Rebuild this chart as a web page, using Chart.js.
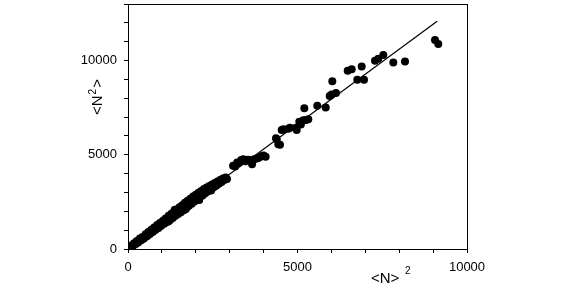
<!DOCTYPE html>
<html>
<head>
<meta charset="utf-8">
<script src="https://cdn.jsdelivr.net/npm/chart.js@4"></script>
<style>
  html, body { margin: 0; padding: 0; background: #fff; }
  #wrap { width: 563px; height: 289px; }
</style>
</head>
<body>
<div id="wrap"><canvas id="scatterChart" width="563" height="289"></canvas></div>
<script>
// measured points: <N>^2 (x) against <N^2> (y)
const pointsX = [
  30, 70, 100, 140, 180, 220, 260, 300, 350, 390, 430, 470, 520, 560, 600, 640, 690, 730,
  770, 810, 860, 900, 940, 980, 1030, 1070, 1110, 1150, 1200, 1240, 1280, 1320, 1360, 1400,
  1440, 1480, 1520, 1560, 1600, 1640, 1680, 1720, 1760, 1800, 1840, 1880, 1920, 1960, 2000,
  2040, 2080, 2120, 2160, 2200, 2240, 2280, 2320, 2360, 2400, 2440, 2480, 2520, 2560, 2600,
  2640, 2680, 2720, 2760, 2800, 2840, 2880, 2920,
  1380, 1700, 2100, 1200, 2450,
  3100, 3220, 3160, 3260, 3340, 3400, 3460, 3540, 3600, 3660, 3720, 3800, 3860, 3940, 4000, 4060,
  4366, 4484, 4386, 4434, 4534, 4581, 4729, 4779, 4956, 4976, 5053, 5100, 5171, 5250, 5319,
  5201, 5584, 5832, 5950, 6009, 6136, 6027, 6481, 6599, 6894, 6764, 6962,
  7286, 7383, 7531, 7826, 8171, 9056, 9153
];
const pointsY = [
  40, 60, 190, 150, 300, 250, 420, 340, 560, 460, 640, 560, 780, 680, 900, 780, 1020, 900,
  1140, 1010, 1280, 1120, 1380, 1230, 1500, 1340, 1620, 1430, 1760, 1540, 1870, 1640, 1980, 1760,
  2100, 1860, 2220, 1950, 2320, 2060, 2450, 2180, 2560, 2290, 2660, 2400, 2780, 2520, 2880,
  2620, 2980, 2740, 3080, 2840, 3180, 2960, 3260, 3060, 3340, 3160, 3420, 3260, 3500, 3360,
  3580, 3460, 3660, 3560, 3740, 3660, 3800, 3720,
  2080, 2110, 2600, 1470, 3100,
  4420, 4595, 4380, 4560, 4720, 4760, 4660, 4740, 4700, 4500, 4760, 4800, 4840, 4920, 4960, 4900,
  5879, 5526, 5826, 5563, 6316, 6352, 6384, 6437, 6437, 6316, 6753, 6600, 6826, 6850, 6879,
  7474, 7595, 7511, 8120, 8195, 8279, 8895, 9458, 9542, 9684, 8984, 8984,
  9984, 10089, 10300, 9895, 9947, 11089, 10879
];

// fitted line
const lineX = [0, 9120];
const lineY = [0, 12080];

const xTickLabels = [0, 5000, 10000];
const yTickLabels = [0, 5000, 10000];

const axisFont = { family: 'Liberation Sans, Arial, sans-serif', size: 13 };

// frame round the plot and the two axis titles with superscripts
const framePlugin = {
    id: 'framePlugin',
    afterDraw(chart) {
        const ctx = chart.ctx;
        const a = chart.chartArea;
        ctx.save();
        ctx.strokeStyle = '#000';
        ctx.lineWidth = 1;
        ctx.strokeRect(a.left + 0.5, a.top + 0.5, a.right - a.left, a.bottom - a.top);

        ctx.fillStyle = '#000';
        ctx.textBaseline = 'alphabetic';
        ctx.textAlign = 'left';

        // x title <N>^2
        ctx.font = '15px Liberation Sans, Arial, sans-serif';
        ctx.fillText('<N>', 371, 283);
        ctx.font = '10px Liberation Sans, Arial, sans-serif';
        ctx.fillText('2', 405, 274);

        // y title <N^2>
        ctx.translate(102, 115);
        ctx.rotate(-Math.PI / 2);
        ctx.font = '15px Liberation Sans, Arial, sans-serif';
        ctx.fillText('<N', 0, 0);
        let w = ctx.measureText('<N').width;
        ctx.font = '10px Liberation Sans, Arial, sans-serif';
        ctx.fillText('2', w + 1, -6);
        w += ctx.measureText('2').width + 2;
        ctx.font = '15px Liberation Sans, Arial, sans-serif';
        ctx.fillText('>', w, 0);
        ctx.restore();
    }
};

const scatterPoints = pointsX.map((x, i) => ({ x: x, y: pointsY[i] }));
const linePoints = lineX.map((x, i) => ({ x: x, y: lineY[i] }));

new Chart(document.getElementById('scatterChart').getContext('2d'), {
    type: 'scatter',
    data: {
        datasets: [
            {
                data: linePoints,
                showLine: true,
                borderColor: '#000',
                borderWidth: 1.2,
                pointRadius: 0,
            },
            {
                data: scatterPoints,
                backgroundColor: '#000',
                borderColor: '#000',
                pointRadius: 4,
                borderWidth: 0,
            }
        ]
    },
    options: {
        responsive: false,
        animation: false,
        events: [],
        layout: { padding: { left: 0, top: 2, right: 96, bottom: 0 } },
        plugins: {
            legend: { display: false },
            tooltip: { enabled: false }
        },
        scales: {
            x: {
                type: 'linear',
                min: 0,
                max: 10000,
                grid: { drawOnChartArea: false, tickLength: 4, tickColor: '#000' },
                border: { color: '#000', width: 1 },
                ticks: {
                    stepSize: 1000,
                    color: '#000',
                    font: axisFont,
                    padding: 7,
                    maxRotation: 0,
                    autoSkip: false,
                    callback: v => xTickLabels.includes(v) ? String(v) : ''
                },
                afterFit: scale => {
                    scale.height = 40;
                    scale.paddingLeft = 0;
                    scale.paddingRight = 0;
                }
            },
            y: {
                type: 'linear',
                min: 0,
                max: 13000,
                grid: { drawOnChartArea: false, tickLength: 4, tickColor: '#000' },
                border: { color: '#000', width: 1 },
                ticks: {
                    stepSize: 1000,
                    color: '#000',
                    font: axisFont,
                    padding: 7,
                    autoSkip: false,
                    callback: v => yTickLabels.includes(v) ? String(v) : ''
                },
                afterFit: scale => {
                    scale.width = 128;
                    scale.paddingTop = 0;
                    scale.paddingBottom = 0;
                }
            }
        }
    },
    plugins: [framePlugin]
});
</script>
</body>
</html>
